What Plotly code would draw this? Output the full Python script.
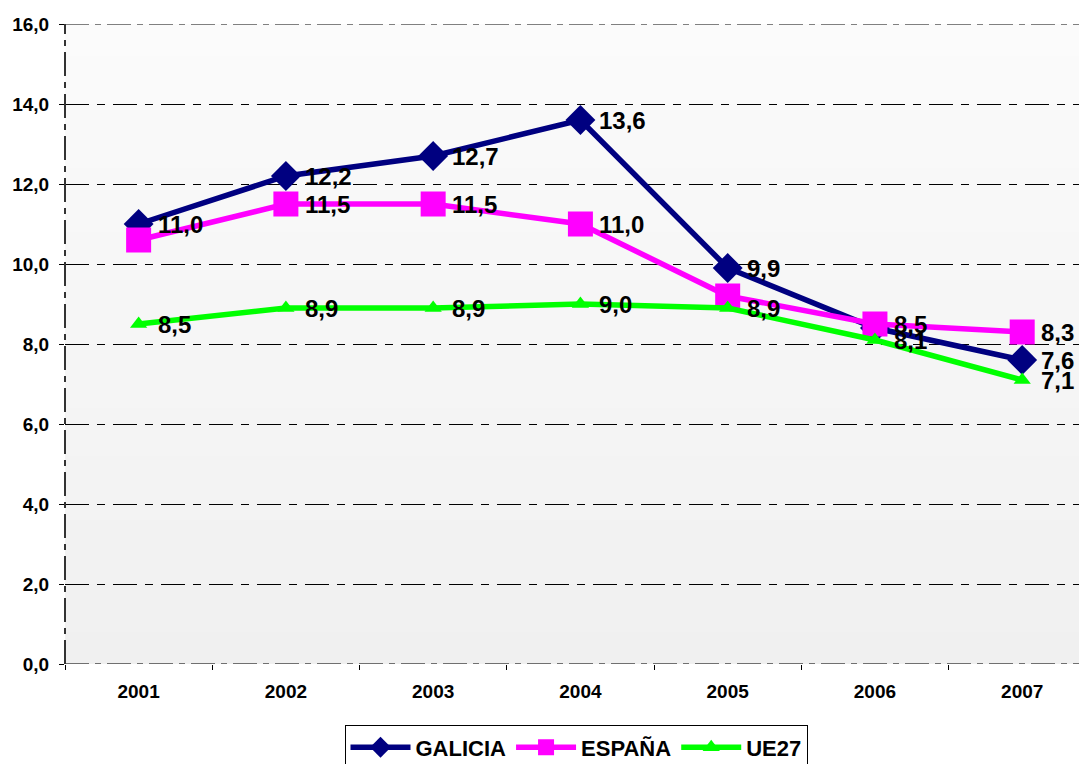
import plotly.graph_objects as go

years = ["2001", "2002", "2003", "2004", "2005", "2006", "2007"]
galicia = [11.0, 12.2, 12.7, 13.6, 9.9, 8.4, 7.6]
espana = [10.6, 11.5, 11.5, 11.0, 9.2, 8.5, 8.3]
ue27 = [8.5, 8.9, 8.9, 9.0, 8.9, 8.1, 7.1]
show_gal = [True, True, True, True, True, False, True]
show_esp = [False, True, True, True, False, True, True]
show_ue = [True, True, True, True, True, True, True]
y_ticks = [0, 2, 4, 6, 8, 10, 12, 14, 16]


def fmt(v):
    return f"{v:.1f}".replace(".", ",")


FONT = "Liberation Sans, Arial, sans-serif"
fig = go.Figure()

series = [
    ("GALICIA", galicia, show_gal, "#000080", "diamond", 23),
    ("ESPAÑA", espana, show_esp, "#FF00FF", "square", 25),
    ("UE27", ue27, show_ue, "#00FF00", "triangle-up", 15),
]
annotations = []
for name, vals, show, col, sym, sz in series:
    fig.add_trace(go.Scatter(
        x=years, y=vals, name=name, mode="lines+markers",
        line=dict(color=col, width=5.5),
        marker=dict(symbol=sym, size=sz, color=col),
        cliponaxis=False,
    ))
    for idx, (v, s) in enumerate(zip(vals, show)):
        if s:
            annotations.append(dict(
                x=idx, y=v, xref="x", yref="y", text=fmt(v), showarrow=False,
                xanchor="left", yanchor="middle", xshift=17,
                font=dict(family=FONT, size=24, color="black", weight="bold"),
            ))

shapes = []
n = 40
for i in range(n):
    t = i / n
    c = int(round(240 + 11 * (i + 0.5) / n))
    shapes.append(dict(type="rect", xref="paper", yref="paper", x0=0, x1=1,
                       y0=t, y1=(i + 1) / n, fillcolor=f"rgb({c},{c},{c})",
                       line=dict(width=0), layer="below"))
shapes.append(dict(type="line", xref="paper", yref="y", x0=0, x1=1, y0=16, y1=16,
                   line=dict(color="#808080", width=2, dash="24px,6px,6px,6px"), layer="above"))
shapes.append(dict(type="line", xref="paper", yref="y", x0=0, x1=1, y0=0, y1=0,
                   line=dict(color="#707070", width=2, dash="24px,6px,6px,6px"), layer="above"))
shapes.append(dict(type="line", xref="paper", yref="paper", x0=0, x1=0, y0=0, y1=1,
                   line=dict(color="#333333", width=2, dash="24px,6px,6px,6px"), layer="above"))

fig.update_layout(
    width=1079, height=756,
    margin=dict(l=57, r=0, t=16, b=100, autoexpand=False),
    paper_bgcolor="white", plot_bgcolor="rgba(0,0,0,0)",
    separators=",.",
    font=dict(family=FONT, color="black"),
    shapes=shapes,
    annotations=annotations,
    showlegend=True,
    legend=dict(orientation="h", x=0.5, xanchor="center", y=-0.096, yanchor="top",
                bordercolor="black", borderwidth=1, bgcolor="white",
                font=dict(family=FONT, size=22, color="black", weight="bold"),
                itemwidth=60, tracegroupgap=0),
    xaxis=dict(type="category", range=[-0.5, 6.44], showgrid=False,
               ticks="outside", tickson="boundaries", ticklen=5, tickcolor="black",
               ticklabelstandoff=14,
               tickfont=dict(family=FONT, size=19, color="black", weight="bold"),
               showline=False, zeroline=False, automargin=False),
    yaxis=dict(range=[0, 16], tickvals=y_ticks, tickformat=".1f",
               showgrid=True, gridcolor="black", gridwidth=1,
               griddash="24px,8px,8px,8px",
               ticks="outside", ticklen=5, tickcolor="black",
               ticklabelstandoff=6,
               tickfont=dict(family=FONT, size=19, color="black", weight="bold"),
               showline=False, zeroline=False, automargin=False),
)
fig.write_html("out.html")
